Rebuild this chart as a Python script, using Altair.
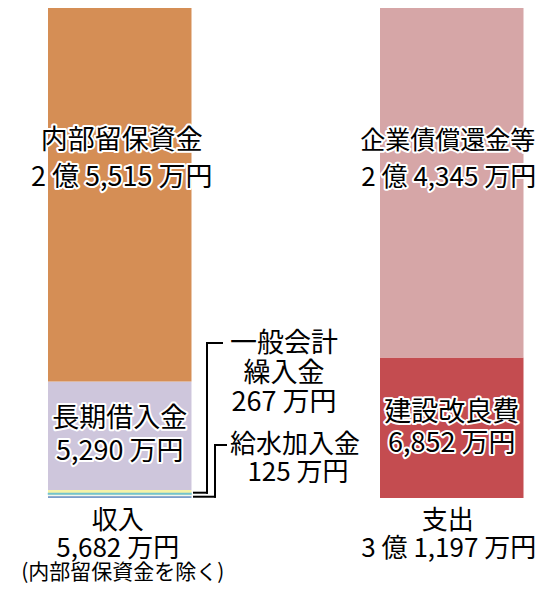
import altair as alt
import pandas as pd

# ---- data (万円) ----
sides = ["収入", "支出"]
income_items = ["給水加入金", "一般会計繰入金", "長期借入金", "内部留保資金"]
income_values = [125, 267, 5290, 25515]
income_colors = ["#7B9DC9", "#F5F3A8", "#CEC6DC", "#D58E55"]
spend_items = ["建設改良費", "企業債償還金等"]
spend_values = [6852, 24345]
spend_colors = ["#C44C50", "#D6A6A7"]
income_note = "(内部留保資金を除く)"

FONT = "Noto Sans CJK JP"
FS = 27


def yen(v):
    if v >= 10000:
        return f"{v // 10000} 億 {v % 10000:,} 万円"
    return f"{v:,} 万円"


rows = []
for side, items, vals in [(sides[0], income_items, income_values), (sides[1], spend_items, spend_values)]:
    acc = 0
    for it, v in zip(items, vals):
        rows.append({"side": side, "item": it, "value": v, "start": acc, "end": acc + v})
        acc += v
df = pd.DataFrame(rows)

income_total = sum(income_values) - income_values[income_items.index("内部留保資金")]
spend_total = sum(spend_values)

xscale = alt.Scale(domain=sides, range=[40, 515.5], paddingInner=0.5678, paddingOuter=0)
yscale = alt.Scale(domain=[0, 23900], range=[490, 0], nice=False)

bars = alt.Chart(df).mark_bar(clip=True).encode(
    x=alt.X("side:N", scale=xscale, axis=None),
    y=alt.Y("start:Q", scale=yscale, axis=None),
    y2="end:Q",
    color=alt.Color("item:N", scale=alt.Scale(domain=income_items + spend_items,
                                              range=income_colors + spend_colors), legend=None),
)

# thin separator between 給水加入金 and 一般会計繰入金
sep_df = pd.DataFrame({"side": [sides[0]], "v": [income_values[0]]})
sep_white = alt.Chart(sep_df).mark_tick(color="white", thickness=1.6, size=144).encode(
    x=alt.X("side:N", scale=xscale, axis=None),
    y=alt.Y("v:Q", scale=yscale, axis=None),
)
sep_cyan = alt.Chart(sep_df).mark_tick(color="#3AAEE0", thickness=1.8, size=144, yOffset=-1.7).encode(
    x=alt.X("side:N", scale=xscale, axis=None),
    y=alt.Y("v:Q", scale=yscale, axis=None),
)


def label(lines, y0, dy, size, side=None, xs=None, halo=True, dx=0):
    out = []
    sizes = size if isinstance(size, list) else [size] * len(lines)
    dxs = dx if isinstance(dx, list) else [dx] * len(lines)
    for i, t in enumerate(lines):
        if side is not None:
            xenc = alt.X("side:N", scale=xscale, axis=None)
        else:
            xenc = alt.value(xs[i])
        src = alt.Chart(pd.DataFrame({"side": [side if side else sides[0]]}))
        enc = dict(x=xenc, y=alt.value(y0 + i * dy), text=alt.value(t))
        if halo:
            out.append(src.mark_text(font=FONT, fontSize=sizes[i], align="center", baseline="middle",
                                     stroke="white", strokeWidth=4, strokeJoin="round",
                                     color="white", dx=dxs[i]).encode(**enc))
        out.append(src.mark_text(font=FONT, fontSize=sizes[i], align="center", baseline="middle",
                                 color="black", dx=dxs[i]).encode(**enc))
    return out


texts = []
texts += label([income_items[3], yen(income_values[3])], 133, 37, FS, side=sides[0], dx=2)
texts += label([spend_items[1], yen(spend_values[1])], 133, 37, [25, 26], side=sides[1], dx=[-4, -3])
texts += label([income_items[2], yen(income_values[2])], 411, 33, FS, side=sides[0])
texts += label([spend_items[0], yen(spend_values[0])], 405, 31, FS, side=sides[1])
texts += label(["一般会計", "繰入金", yen(income_values[1])], 336, 29.5, FS, xs=[276, 276, 276], halo=False)
texts += label([income_items[0], yen(income_values[0])], 437, 28, 26, xs=[287, 290], halo=False)
texts += label([sides[0], yen(income_total)], 513, 28, 26, side=sides[0], halo=False, dx=-2)
texts += label([income_note], 565, 0, 21, side=sides[0], halo=False, dx=3)
texts += label([sides[1], yen(spend_total)], 513, 28, 26, side=sides[1], halo=False, dx=[-4, -3])

# leader lines
def leader(v, xv, ytop, xend):
    d = alt.Chart(pd.DataFrame({"v": [v]}))
    return [
        d.mark_rule(color="black", strokeWidth=2, strokeCap="square").encode(
            y=alt.Y("v:Q", scale=yscale, axis=None), x=alt.value(186), x2=alt.value(xv)),
        d.mark_rule(color="black", strokeWidth=2, strokeCap="square").encode(
            x=alt.value(xv), y=alt.Y("v:Q", scale=yscale, axis=None), y2=alt.value(ytop)),
        d.mark_rule(color="black", strokeWidth=2, strokeCap="square").encode(
            y=alt.value(ytop), x=alt.value(xv), x2=alt.value(xend)),
    ]


lines = []
lines += leader(income_values[0] + income_values[1] / 2, 199, 335, 214)
lines += leader(income_values[0] / 2, 207, 437, 218)

chart = alt.layer(bars, sep_white, sep_cyan, *lines, *texts).properties(
    width=531, height=578,
    autosize=alt.AutoSizeParams(type="none"),
    padding=0,
).configure_view(stroke=None)

chart.save("out.html", embed_options={"renderer": "svg", "actions": False})
